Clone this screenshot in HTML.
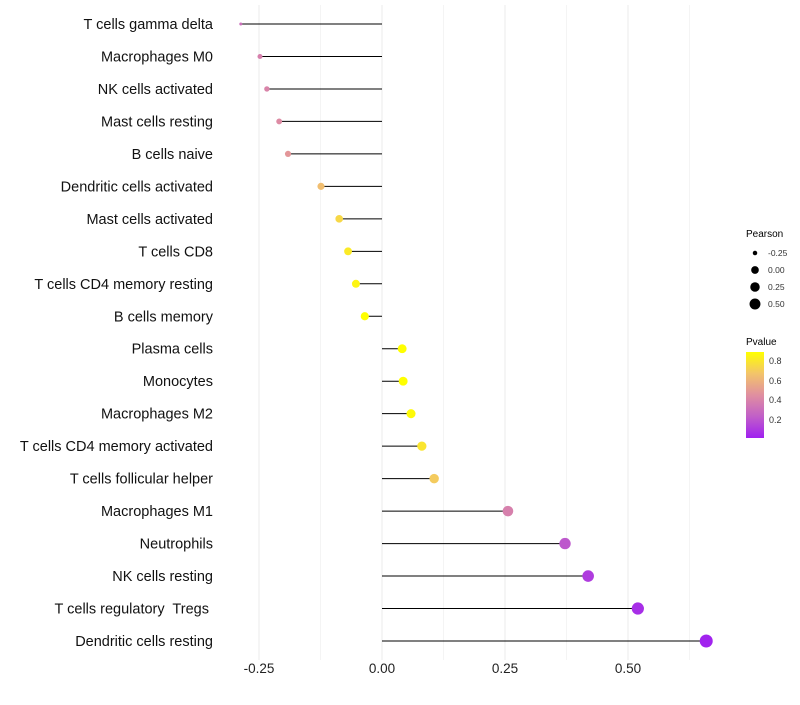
<!DOCTYPE html>
<html><head><meta charset="utf-8"><style>
body{margin:0;background:#fff;font-family:"Liberation Sans",sans-serif}
</style></head><body>
<svg id="chart" width="800" height="700" xmlns="http://www.w3.org/2000/svg" font-family="Liberation Sans, sans-serif">
<defs><linearGradient id="pg" x1="0" y1="1" x2="0" y2="0">
<stop offset="0" stop-color="#A020F0"/><stop offset="0.25" stop-color="#C15FC8"/><stop offset="0.5" stop-color="#E08FA0"/><stop offset="0.75" stop-color="#F3C46A"/><stop offset="1" stop-color="#FFFF00"/></linearGradient></defs>
<g id="grid"></g>
<g id="marks"></g>
<g id="ylab"></g>
<g id="xlab"></g>
<g id="lp">
<text x="746" y="237" font-size="10">Pearson</text>
</g>
<g>
<text x="746" y="345" font-size="10">Pvalue</text>
<rect x="746" y="352" width="18" height="86" fill="url(#pg)"/>
<g font-size="9" fill="#333">
<text x="769" y="364">0.8</text>
<text x="769" y="384">0.6</text>
<text x="769" y="403">0.4</text>
<text x="769" y="423">0.2</text>
</g></g>
</svg>
<script>
const categories=["T cells gamma delta","Macrophages M0","NK cells activated","Mast cells resting","B cells naive","Dendritic cells activated","Mast cells activated","T cells CD8","T cells CD4 memory resting","B cells memory","Plasma cells","Monocytes","Macrophages M2","T cells CD4 memory activated","T cells follicular helper","Macrophages M1","Neutrophils","NK cells resting","T cells regulatory  Tregs ","Dendritic cells resting"];
const pearson=[-0.287,-0.248,-0.234,-0.209,-0.191,-0.124,-0.087,-0.069,-0.053,-0.035,0.041,0.043,0.059,0.081,0.106,0.256,0.372,0.419,0.520,0.659];
const pvalue=[0.3,0.38,0.4,0.43,0.48,0.65,0.75,0.82,0.86,0.9,0.9,0.9,0.88,0.8,0.7,0.38,0.2,0.1,0.05,0.01];
const xTicks=[-0.25,0,0.25,0.5];
const xTickLabels=["-0.25","0.00","0.25","0.50"];
const sizeLegend=[-0.25,0,0.25,0.5];
const NS="http://www.w3.org/2000/svg";
const x=v=>382+v*492;
const y=i=>24+i*(641-24)/19;
const pmin=-0.287,pmax=0.659;
const r=v=>1.5+5*Math.sqrt(Math.max(0,(v-pmin)/(pmax-pmin)));
function col(p){const stops=[[0,[160,32,240]],[0.25,[193,95,200]],[0.5,[224,143,160]],[0.75,[243,196,106]],[1,[255,255,0]]];
 let t=Math.min(1,Math.max(0,p/0.9));for(let k=1;k<stops.length;k++){if(t<=stops[k][0]){const a=stops[k-1],b=stops[k];const f=(t-a[0])/(b[0]-a[0]);return "rgb("+a[1].map((c,j)=>Math.round(c+(b[1][j]-c)*f)).join(",")+")";}}return "rgb(255,255,0)";}
function mk(t,a,p){const e=document.createElementNS(NS,t);for(const k in a)e.setAttribute(k,a[k]);p.appendChild(e);return e;}
const grid=document.getElementById('grid');
for(let v=-0.375;v<=0.7;v+=0.125){const X=x(v);if(X<225||X>725)continue;
 const l=mk('line',{x1:X,x2:X,y1:5,y2:660,stroke:Math.abs((v/0.25)%1)<1e-6?'#ebebeb':'#f4f4f4','stroke-width':1},grid);
 
 }
const marks=document.getElementById('marks'),ylab=document.getElementById('ylab'),xlab=document.getElementById('xlab');
categories.forEach((c,i)=>{
 const s=mk('line',{x1:x(0),x2:x(pearson[i]),y1:y(i),y2:y(i),stroke:'#000','stroke-width':1},marks);
 
 
 const d=mk('circle',{cx:x(pearson[i]),cy:y(i),r:r(pearson[i]),fill:col(pvalue[i])},marks);
 
 
 const t=mk('text',{x:213,y:y(i)+5,'text-anchor':'end','font-size':14.5,fill:'#111'},ylab);t.textContent=c;
 t.style.whiteSpace='pre';
 
 
});
xTicks.forEach((v,i)=>{const t=mk('text',{x:x(v),y:673,'text-anchor':'middle','font-size':13.5,fill:'#222'},xlab);t.textContent=xTickLabels[i];
 
 });
const lp=document.getElementById('lp');
sizeLegend.forEach((v,i)=>{const cy=253+i*17;
 const c=mk('circle',{cx:755,cy:cy,r:r(v)*0.9,fill:'#000'},lp);
 
 
 const t=mk('text',{x:768,y:cy+3,'font-size':8.5,fill:'#333'},lp);t.textContent=xTickLabels[i];
 
 });
</script>
</body></html>
